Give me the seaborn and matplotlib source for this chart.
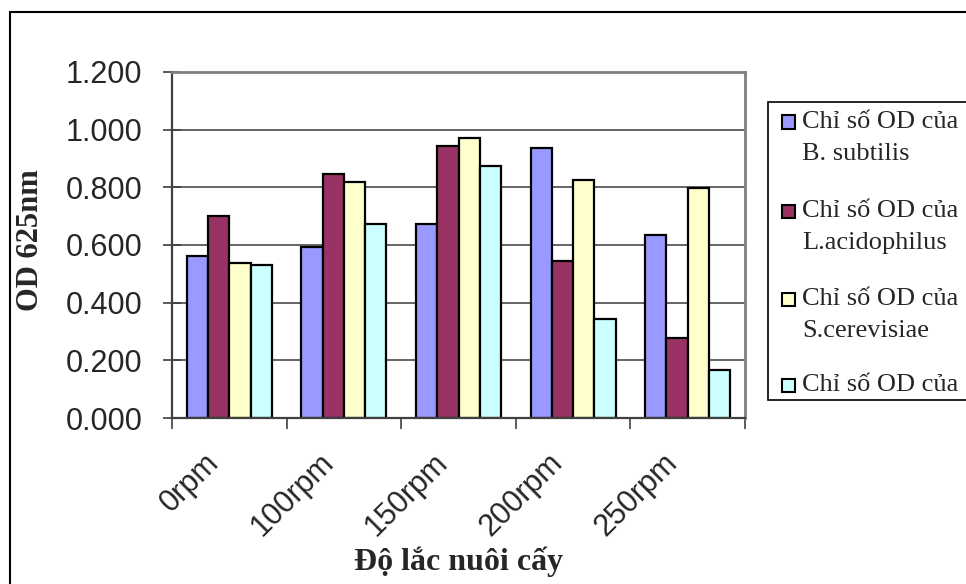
import matplotlib
matplotlib.use("Agg")
import matplotlib.pyplot as plt
import matplotlib.patches as mpatches
import matplotlib.transforms as mtransforms
from matplotlib.ticker import FixedLocator, FormatStrFormatter
import seaborn as sns
import pandas as pd

categories = ["0rpm", "100rpm", "150rpm", "200rpm", "250rpm"]
series_names = [
    "Chỉ số OD của\nB. subtilis",
    "Chỉ số OD của\nL.acidophilus",
    "Chỉ số OD của\nS.cerevisiae",
    "Chỉ số OD của",
]
b_subtilis = [0.561, 0.593, 0.672, 0.936, 0.636]
l_acidophilus = [0.699, 0.846, 0.944, 0.544, 0.279]
s_cerevisiae = [0.537, 0.818, 0.972, 0.824, 0.797]
series4 = [0.532, 0.672, 0.874, 0.342, 0.168]
colors = ["#9999FF", "#993366", "#FFFFCC", "#CCFFFF"]
y_ticks = [0.0, 0.2, 0.4, 0.6, 0.8, 1.0, 1.2]

rows = []
for name, vals in zip(series_names, [b_subtilis, l_acidophilus, s_cerevisiae, series4]):
    for c, v in zip(categories, vals):
        rows.append({"cat": c, "series": name, "val": v})
df = pd.DataFrame(rows)

sns.set_theme(style="white")
plt.rcParams["font.family"] = ["Liberation Sans", "DejaVu Sans"]
SERIF = ["Liberation Serif", "DejaVu Serif"]

W, H = 966, 584
fig = plt.figure(figsize=(W / 100, H / 100), dpi=100)
ax = fig.add_axes([172 / W, 1 - 418 / H, 573 / W, 346 / H])

sns.barplot(data=df, x="cat", y="val", hue="series", order=categories,
            hue_order=series_names, palette=colors, width=0.74,
            edgecolor="black", linewidth=1.6, saturation=1, ax=ax,
            legend=False, errorbar=None)

ax.set_xlim(-0.5, 4.5)
ax.set_ylim(0, 1.2)
ax.set_yticks(y_ticks)
ax.yaxis.set_major_formatter(FormatStrFormatter("%.3f"))
ax.set_axisbelow(True)
ax.yaxis.grid(True, color="#3a3a3a", linewidth=1.1)
ax.xaxis.grid(False)

for s in ["top", "right"]:
    ax.spines[s].set_color("#808080")
    ax.spines[s].set_linewidth(2)
for s in ["left", "bottom"]:
    ax.spines[s].set_color("#404040")
    ax.spines[s].set_linewidth(1.6)

ax.tick_params(axis="y", which="major", direction="inout", length=13, width=1.2,
               color="#404040", pad=15, labelsize=22, left=True)
ax.xaxis.set_minor_locator(FixedLocator([-0.5, 0.5, 1.5, 2.5, 3.5, 4.5]))
ax.tick_params(axis="x", which="minor", direction="out", length=8, width=1.2,
               color="#404040", bottom=True)
ax.tick_params(axis="x", which="major", length=0, pad=29, labelsize=22)
offset = mtransforms.ScaledTranslation(-15 / 100, 0, fig.dpi_scale_trans)
for lbl in ax.get_xticklabels():
    lbl.set_rotation(45)
    lbl.set_ha("right")
    lbl.set_va("center")
    lbl.set_rotation_mode("anchor")
    lbl.set_transform(lbl.get_transform() + offset)

ax.set_xlabel("Độ lắc nuôi cấy", fontsize=23, fontweight="bold", family=SERIF)
ax.xaxis.set_label_coords(0.5, -0.37)
ax.set_ylabel("OD 625nm", fontsize=22, fontweight="bold", family=SERIF)
ax.yaxis.set_label_coords(-0.222, 0.514)

# legend box (drawn manually, Excel style)
def fy(py):
    return 1 - py / H

leg_box = mpatches.Rectangle((768 / W, fy(400)), 300 / W, 298 / H,
                             transform=fig.transFigure, facecolor="white",
                             edgecolor="black", linewidth=1.2)
fig.patches.append(leg_box)
first_lines = [122, 211, 299, 385]
for name, col, y0 in zip(series_names, colors, first_lines):
    sq = 13
    fig.patches.append(mpatches.Rectangle((782 / W, fy(y0 + sq / 2)), sq / W, sq / H,
                                          transform=fig.transFigure, facecolor=col,
                                          edgecolor="black", linewidth=1.5))
    for i, line in enumerate(name.split("\n")):
        fig.text(802 / W, fy(y0 + i * 32), line, family=SERIF, fontsize=19,
                 va="center", ha="left")

border = mpatches.Rectangle((10 / W, -0.2), 1.2, 0.2 + fy(12),
                            transform=fig.transFigure, fill=False,
                            edgecolor="black", linewidth=1.5, zorder=-1)
fig.patches.append(border)

fig.savefig("out.png", dpi=100)
